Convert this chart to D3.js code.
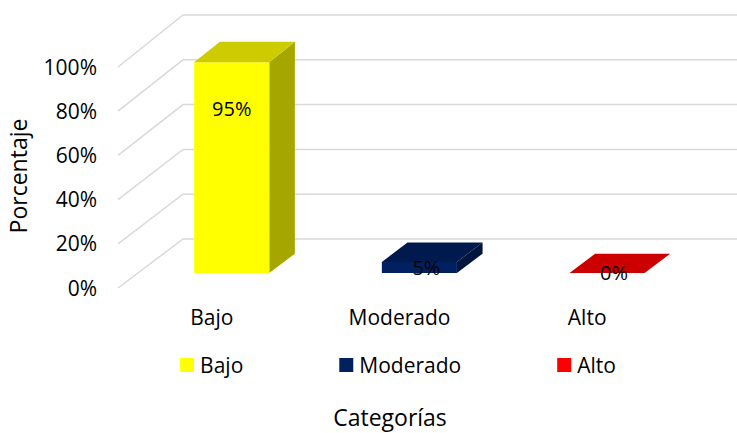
<!DOCTYPE html>
<html>
<head>
<meta charset="utf-8">
<script src="https://cdn.jsdelivr.net/npm/d3@7"></script>
<style>
  body { margin: 0; background: #fff; }
  text { font-family: 'Open Sans', sans-serif; fill: #000; }
</style>
</head>
<body>
<svg id="chart" width="737" height="433"></svg>
<script>
// data
const categories = ['Bajo', 'Moderado', 'Alto'];
const values = [0.95, 0.05, 0.0];
const valueLabels = ['95%', '5%', '0%'];
const barColors = ['#FFFF00', '#002060', '#FF0000'];
const yTicks = [0, 0.2, 0.4, 0.6, 0.8, 1];
const yTickLabels = ['0%', '20%', '40%', '60%', '80%', '100%'];

const width = 737, height = 433;
const svg = d3.select('#chart');

// oblique 3d: front plane of the floor and the back wall
const depthX = 65;
const yFront = d3.scaleLinear().domain([0, 1]).range([288, 67]);
const yBack = d3.scaleLinear().domain([0, 1]).range([239, 15]);
const x = d3.scaleBand()
  .domain(categories)
  .range([118, 681])
  .paddingInner(0.6)
  .paddingOuter(0.3);

// bars sit between these depths (0 = front, 1 = back wall)
const z1 = 0.306, z2 = 0.70;

function pt(px, v, z) {
  return [px + z * depthX, yFront(v) * (1 - z) + yBack(v) * z];
}

function shade(c, k) {
  const col = d3.rgb(c);
  return d3.rgb(col.r * k, col.g * k, col.b * k).formatHex();
}

// gridlines: diagonal on the side, then flat across the back wall
svg.append('g')
  .selectAll('path')
  .data(yTicks)
  .enter()
  .append('path')
  .attr('d', t => {
    const a = pt(118, t, 0), b = pt(118, t, 1);
    return `M${a}L${b}L${width},${yBack(t)}`;
  })
  .attr('fill', 'none')
  .attr('stroke', '#D9D9D9')
  .attr('stroke-width', 1.5);

// y tick labels
svg.append('g')
  .selectAll('text')
  .data(yTicks)
  .enter()
  .append('text')
  .attr('x', 97)
  .attr('y', t => yFront(t))
  .attr('dy', '0.36em')
  .attr('text-anchor', 'end')
  .style('font-size', '21px')
  .text((t, i) => yTickLabels[i]);

// bars
const bars = svg.append('g')
  .selectAll('g')
  .data(categories)
  .enter()
  .append('g');

const poly = pts => 'M' + pts.join('L') + 'Z';

bars.append('path') // side
  .attr('d', (c, i) => {
    const xr = x(c) + x.bandwidth(), v = values[i];
    return poly([pt(xr, 0, z1), pt(xr, 0, z2), pt(xr, v, z2), pt(xr, v, z1)]);
  })
  .attr('fill', (c, i) => shade(barColors[i], 0.65));

bars.append('path') // front
  .attr('d', (c, i) => {
    const xl = x(c), xr = xl + x.bandwidth(), v = values[i];
    return poly([pt(xl, 0, z1), pt(xr, 0, z1), pt(xr, v, z1), pt(xl, v, z1)]);
  })
  .attr('fill', (c, i) => barColors[i]);

bars.append('path') // top
  .attr('d', (c, i) => {
    const xl = x(c), xr = xl + x.bandwidth(), v = values[i];
    return poly([pt(xl, v, z1), pt(xr, v, z1), pt(xr, v, z2), pt(xl, v, z2)]);
  })
  .attr('fill', (c, i) => shade(barColors[i], 0.8));

// value labels: near the top for the tall bar, centred on short ones
bars.append('text')
  .attr('x', (c, i) => {
    const cx = pt(x(c) + x.bandwidth() / 2, 0, z1)[0];
    return values[i] < 0.4 ? cx + 7 : cx;
  })
  .attr('y', (c, i) => {
    const top = pt(0, values[i], z1)[1], bottom = pt(0, 0, z1)[1];
    return top + Math.min((bottom - top) / 2, 47);
  })
  .attr('dy', '0.36em')
  .attr('text-anchor', 'middle')
  .style('font-size', '20px')
  .text((c, i) => valueLabels[i]);

// category labels along the front edge
svg.append('g')
  .selectAll('text')
  .data(categories)
  .enter()
  .append('text')
  .attr('x', c => x(c) + x.bandwidth() / 2)
  .attr('y', 325)
  .attr('text-anchor', 'middle')
  .style('font-size', '21px')
  .text(c => c);

// legend, centred
const legend = svg.append('g');
const items = legend.selectAll('g')
  .data(categories)
  .enter()
  .append('g');
items.append('rect')
  .attr('y', 358)
  .attr('width', 14)
  .attr('height', 14)
  .attr('fill', (c, i) => barColors[i]);
items.append('text')
  .attr('x', 20)
  .attr('y', 373)
  .style('font-size', '21px')
  .text(c => c);

let cursor = 0;
const itemGap = 96;
const offsets = [];
items.each(function () {
  offsets.push(cursor);
  cursor += 20 + this.querySelector('text').getComputedTextLength() + itemGap;
});
const legendWidth = cursor - itemGap;
const legendStart = 398 - legendWidth / 2;
items.attr('transform', (c, i) => `translate(${legendStart + offsets[i]},0)`);

// axis titles
svg.append('text')
  .attr('transform', 'translate(27,176) rotate(-90)')
  .attr('text-anchor', 'middle')
  .style('font-size', '23px')
  .text('Porcentaje');

svg.append('text')
  .attr('x', 390)
  .attr('y', 426)
  .attr('text-anchor', 'middle')
  .style('font-size', '23px')
  .text('Categorías');
</script>
</body>
</html>
